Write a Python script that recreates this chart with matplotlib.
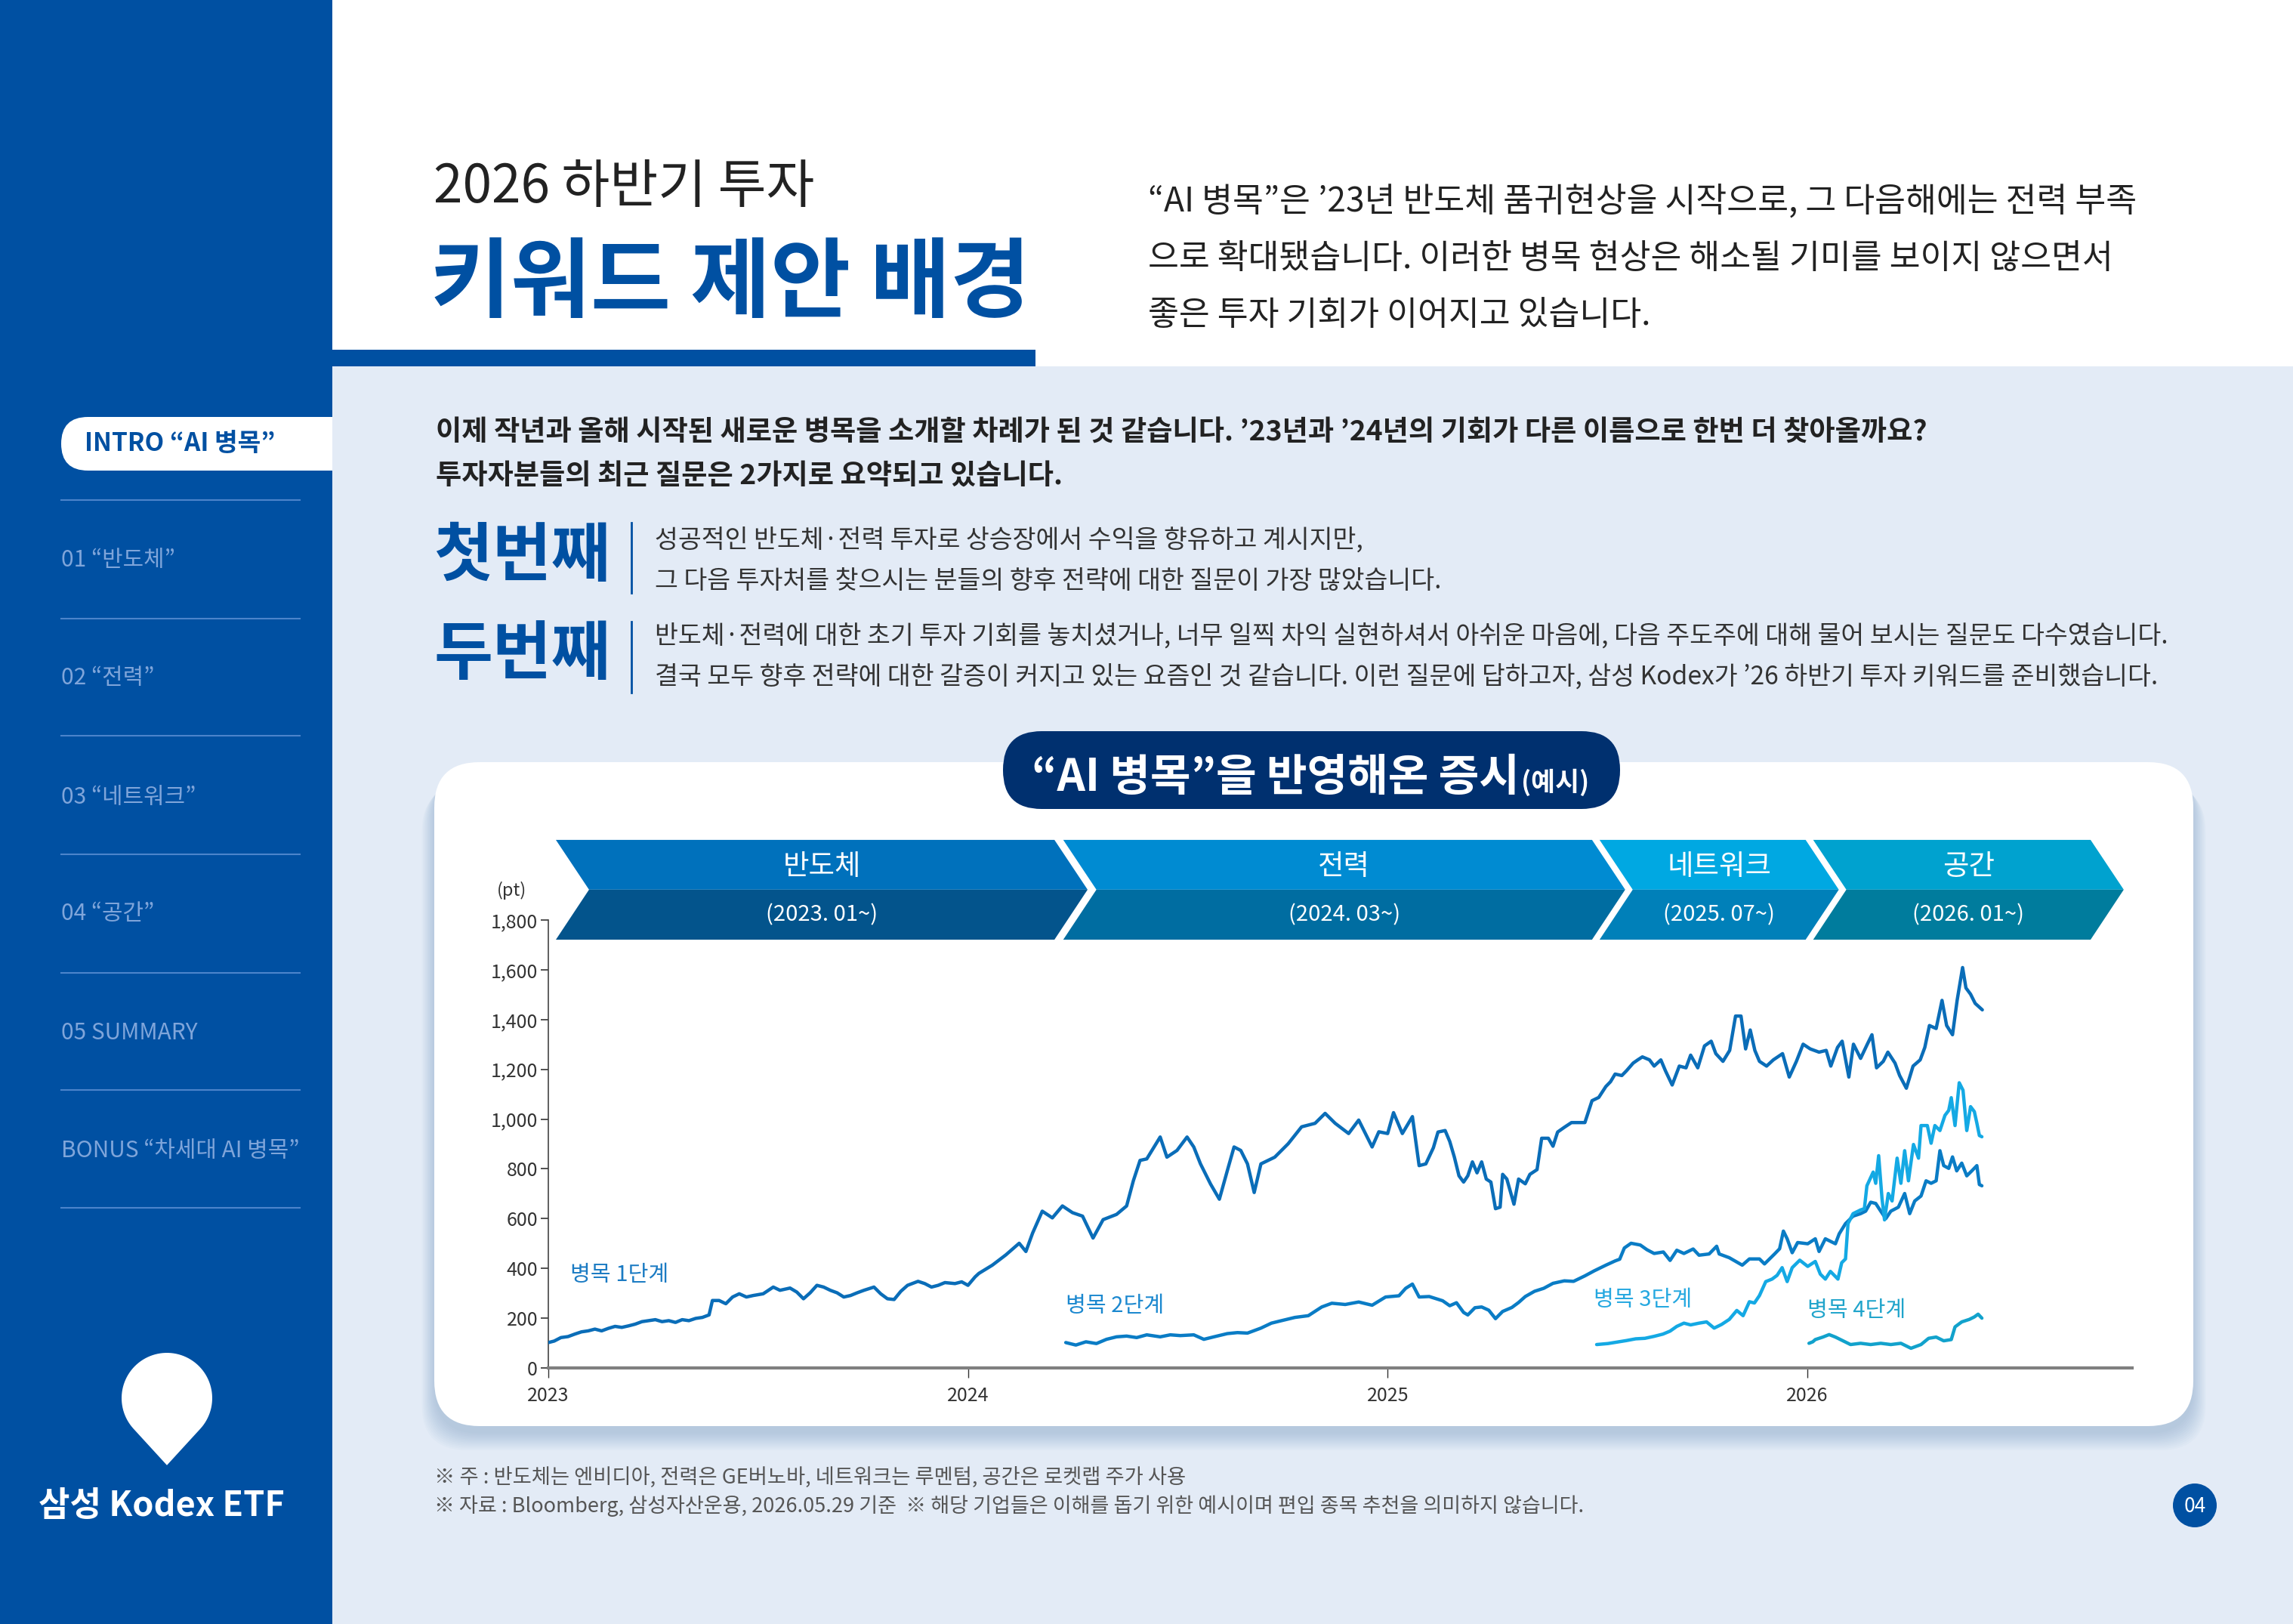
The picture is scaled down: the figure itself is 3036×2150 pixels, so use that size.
import matplotlib
matplotlib.use("Agg")
import matplotlib.pyplot as plt
from matplotlib.patches import FancyBboxPatch, Rectangle, Polygon, Circle
import numpy as np

plt.rcParams["font.family"] = ["Noto Sans CJK KR", "DejaVu Sans"]

W, H = 3036, 2150

# ---- chart data (decimal year, pt) ----
S1_YEAR = [2023.000, 2023.014, 2023.030, 2023.047, 2023.063, 2023.079, 2023.095, 2023.111, 2023.127, 2023.143,
           2023.159, 2023.175, 2023.191, 2023.207, 2023.223, 2023.239, 2023.255, 2023.271, 2023.287, 2023.303,
           2023.319, 2023.335, 2023.351, 2023.367, 2023.383, 2023.391, 2023.407, 2023.423, 2023.439, 2023.455,
           2023.472, 2023.488, 2023.512, 2023.536, 2023.552, 2023.576, 2023.592, 2023.608, 2023.624, 2023.640,
           2023.656, 2023.672, 2023.688, 2023.704, 2023.720, 2023.736, 2023.752, 2023.776, 2023.792, 2023.808,
           2023.824, 2023.840, 2023.856, 2023.881, 2023.897, 2023.913, 2023.929, 2023.945, 2023.969, 2023.985,
           2024.000, 2024.017, 2024.026, 2024.058, 2024.090, 2024.122, 2024.138, 2024.154, 2024.177, 2024.201,
           2024.225, 2024.249, 2024.273, 2024.298, 2024.322, 2024.354, 2024.378, 2024.394, 2024.410, 2024.426,
           2024.458, 2024.474, 2024.498, 2024.522, 2024.538, 2024.554, 2024.578, 2024.599, 2024.618, 2024.634,
           2024.650, 2024.666, 2024.682, 2024.698, 2024.731, 2024.763, 2024.795, 2024.827, 2024.851, 2024.875,
           2024.907, 2024.931, 2024.963, 2024.979,
           2025.000, 2025.014, 2025.035, 2025.059, 2025.075, 2025.091,
           2025.109, 2025.120, 2025.137, 2025.148, 2025.159, 2025.170, 2025.181, 2025.191, 2025.202, 2025.213,
           2025.224, 2025.235, 2025.246, 2025.257, 2025.268, 2025.274, 2025.284, 2025.301, 2025.312, 2025.328,
           2025.339, 2025.356, 2025.367, 2025.383, 2025.394, 2025.405, 2025.421, 2025.438, 2025.454, 2025.470,
           2025.487, 2025.503, 2025.520, 2025.531, 2025.542, 2025.558, 2025.569, 2025.585, 2025.596, 2025.607,
           2025.624, 2025.635, 2025.651, 2025.662, 2025.678, 2025.695, 2025.711, 2025.722, 2025.739, 2025.755,
           2025.771, 2025.782, 2025.799, 2025.815, 2025.829, 2025.842, 2025.853, 2025.864, 2025.875, 2025.886,
           2025.903, 2025.919, 2025.941, 2025.957, 2025.974, 2025.990,
           2026.007, 2026.028, 2026.045, 2026.056, 2026.072, 2026.083, 2026.099, 2026.110, 2026.127, 2026.143,
           2026.154, 2026.165, 2026.181, 2026.192, 2026.209, 2026.220, 2026.236, 2026.252, 2026.269, 2026.280,
           2026.291, 2026.307, 2026.321, 2026.332, 2026.346, 2026.357, 2026.370, 2026.378, 2026.389, 2026.400,
           2026.417]
S1_VAL = [102, 108, 122, 126, 136, 145, 149, 156, 149, 159,
          167, 163, 169, 176, 186, 190, 194, 186, 190, 183,
          194, 190, 199, 203, 213, 271, 271, 258, 285, 298,
          285, 291, 298, 325, 312, 321, 305, 278, 302, 332,
          325, 312, 302, 285, 291, 302, 312, 325, 298, 278,
          275, 308, 332, 348, 339, 325, 332, 343, 339, 346,
          332, 366, 380, 413, 454, 501, 468, 542, 630, 603,
          651, 624, 610, 522, 596, 617, 651, 752, 834, 840,
          928, 847, 874, 928, 888, 820, 739, 678, 793, 888,
          874, 820, 705, 820, 847, 901, 969, 983, 1023, 983,
          942, 996, 888, 949,
          942, 1026, 942, 1010, 813, 820,
          885, 948, 954, 910, 847, 772, 747, 772, 828, 784,
          828, 759, 747, 640, 646, 778, 759, 658, 759, 740,
          778, 797, 923, 923, 891, 948, 967, 986, 986, 986,
          1074, 1087, 1131, 1150, 1181, 1175, 1194, 1225, 1238, 1250,
          1238, 1213, 1238, 1194, 1137, 1213, 1206, 1257, 1206, 1294,
          1313, 1263, 1232, 1276, 1414, 1414, 1282, 1358, 1276, 1232,
          1213, 1238, 1263, 1169, 1232, 1301,
          1282, 1269, 1276, 1213, 1288, 1313, 1169, 1301, 1244, 1301,
          1339, 1206, 1232, 1269, 1225, 1175, 1124, 1213, 1238, 1288,
          1376, 1364, 1477, 1376, 1339, 1477, 1609, 1527, 1502, 1465,
          1439]

S2_YEAR = [2024.233, 2024.257, 2024.281, 2024.306, 2024.330, 2024.354, 2024.378, 2024.402, 2024.426, 2024.458,
           2024.482, 2024.506, 2024.538, 2024.562, 2024.586, 2024.618, 2024.642, 2024.666, 2024.698, 2024.723,
           2024.747, 2024.779, 2024.811, 2024.843, 2024.867, 2024.899, 2024.931, 2024.963, 2024.995,
           2025.027, 2025.043, 2025.059, 2025.075, 2025.099,
           2025.131, 2025.148, 2025.164, 2025.181, 2025.191, 2025.208, 2025.224, 2025.241, 2025.257, 2025.274,
           2025.296, 2025.312, 2025.328, 2025.350, 2025.372, 2025.394, 2025.421, 2025.443, 2025.470, 2025.492,
           2025.520, 2025.542, 2025.553, 2025.564, 2025.580, 2025.602, 2025.618, 2025.635, 2025.657, 2025.673,
           2025.689, 2025.706, 2025.728,
           2025.742, 2025.766, 2025.784, 2025.790, 2025.814, 2025.845, 2025.862, 2025.886, 2025.898, 2025.922,
           2025.934, 2025.943, 2025.952, 2025.964, 2025.977,
           2026.001, 2026.019, 2026.028, 2026.043, 2026.067, 2026.076, 2026.091, 2026.109, 2026.127, 2026.139,
           2026.151, 2026.163, 2026.175, 2026.187, 2026.199, 2026.217, 2026.232, 2026.244, 2026.256, 2026.271,
           2026.283, 2026.295, 2026.307, 2026.316, 2026.325, 2026.337, 2026.346, 2026.356, 2026.368, 2026.380,
           2026.392, 2026.404, 2026.410, 2026.416]
S2_VAL = [102, 92, 105, 98, 115, 125, 128, 122, 133, 125,
          133, 130, 133, 115, 125, 138, 142, 140, 160, 180,
          190, 203, 210, 245, 260, 255, 265, 252, 285,
          290, 320, 337, 285, 287,
          270, 250, 262, 223, 213, 242, 245, 232, 198, 227,
          243, 263, 287, 308, 320, 340, 350, 348, 370, 390,
          413, 430, 437, 482, 501, 494, 475, 460, 466, 432,
          473, 460, 478,
          453, 458, 489, 458, 443, 413, 438, 438, 418, 458,
          479, 550, 519, 463, 504,
          499, 519, 468, 519, 499, 539, 580, 610, 620, 630,
          666, 661, 630, 600, 630, 646, 701, 620, 671, 691,
          752, 742, 752, 873, 813, 802, 848, 792, 823, 772,
          792, 813, 737, 732]

S3_YEAR = [2025.498, 2025.525, 2025.547, 2025.569, 2025.591, 2025.613, 2025.635, 2025.656, 2025.673, 2025.689,
           2025.706, 2025.722, 2025.742, 2025.760, 2025.778, 2025.796, 2025.814, 2025.832, 2025.847, 2025.862,
           2025.874, 2025.886, 2025.901, 2025.916, 2025.928, 2025.940, 2025.952, 2025.964, 2025.982,
           2026.001, 2026.019, 2026.031, 2026.043, 2026.055, 2026.073, 2026.082, 2026.091, 2026.097, 2026.109,
           2026.127, 2026.136, 2026.142, 2026.157, 2026.163, 2026.170, 2026.178, 2026.184, 2026.193, 2026.202,
           2026.214, 2026.223, 2026.232, 2026.241, 2026.253, 2026.265, 2026.271, 2026.286, 2026.295, 2026.304,
           2026.316, 2026.328, 2026.337, 2026.343, 2026.352, 2026.362, 2026.371, 2026.380, 2026.389, 2026.398,
           2026.404, 2026.410, 2026.416]
S3_VAL = [94, 98, 104, 110, 117, 119, 127, 136, 148, 167,
          180, 173, 180, 185, 160, 175, 195, 231, 210, 266,
          261, 291, 347, 357, 372, 403, 347, 403, 433,
          408, 428, 377, 357, 388, 357, 423, 438, 580, 620,
          635, 640, 732, 787, 742, 853, 681, 595, 701, 671,
          843, 742, 873, 752, 898, 843, 974, 974, 903, 974,
          954, 1015, 1035, 1086, 974, 1146, 1116, 954, 1050, 1030,
          984, 934, 929]

S4_YEAR = [2026.004, 2026.013, 2026.019, 2026.037, 2026.052, 2026.067, 2026.085, 2026.103, 2026.127, 2026.151,
           2026.175, 2026.199, 2026.223, 2026.247, 2026.271, 2026.289, 2026.307, 2026.325, 2026.343, 2026.352,
           2026.368, 2026.386, 2026.398, 2026.407, 2026.416]
S4_VAL = [99, 105, 114, 124, 134, 124, 109, 94, 99, 94,
          99, 94, 99, 79, 94, 119, 124, 109, 114, 165,
          185, 195, 205, 216, 200]

SERIES_LABELS = ["병목 1단계", "병목 2단계", "병목 3단계", "병목 4단계"]

STAGE_NAMES = ["반도체", "전력", "네트워크", "공간"]
STAGE_DATES = ["(2023. 01~)", "(2024. 03~)", "(2025. 07~)", "(2026. 01~)"]
STAGE_START = [2023.018, 2024.227, 2025.505, 2026.014]
STAGE_END = [2024.206, 2025.487, 2025.996, 2026.675]

YEAR_TICKS = [2023, 2024, 2025, 2026]
Y_TICKS = [0, 200, 400, 600, 800, 1000, 1200, 1400, 1600, 1800]

MENU = ["01 “반도체”", "02 “전력”", "03 “네트워크”", "04 “공간”", "05 SUMMARY", "BONUS “차세대 AI 병목”"]

# ---- colours ----
BLUE = "#0050A2"
BG = "#E3EBF6"
NAVY = "#00306F"
LINE_COLORS = ["#0A6DB8", "#0A7CC5", "#14A9E4", "#12A2CC"]
LABEL_COLORS = ["#1B7BC3", "#1B88CF", "#25A8E0", "#20A4CB"]
TOP_COLORS = ["#0071BC", "#008BD2", "#00A8E2", "#00A2CF"]
BOT_COLORS = ["#03548C", "#006DA1", "#0080B9", "#007C9D"]

fig = plt.figure(figsize=(W / 100, H / 100), dpi=100)
fig.patch.set_facecolor(BG)

# full-page layer in pixel coordinates (y down)
bg = fig.add_axes([0, 0, 1, 1])
bg.set_xlim(0, W)
bg.set_ylim(H, 0)
bg.axis("off")
bg.set_zorder(0)

bg.add_patch(Rectangle((0, 0), 440, H, fc=BLUE, ec="none"))
bg.add_patch(Rectangle((440, 0), W - 440, 485, fc="white", ec="none"))
bg.add_patch(Rectangle((440, 463), 931, 22, fc=BLUE, ec="none"))

# header
bg.text(574, 248, "2026 하반기 투자", fontsize=50, color="#222222", va="center")
bg.text(570, 378, "키워드 제안 배경", fontsize=83, fontweight="bold", color=BLUE, va="center")

head = ["“AI 병목”은 ’23년 반도체 품귀현상을 시작으로, 그 다음해에는 전력 부족",
        "으로 확대됐습니다. 이러한 병목 현상은 해소될 기미를 보이지 않으면서",
        "좋은 투자 기회가 이어지고 있습니다."]
for i, s in enumerate(head):
    bg.text(1520, 267 + 75 * i, s, fontsize=32, color="#222222", va="center")

intro = ["이제 작년과 올해 시작된 새로운 병목을 소개할 차례가 된 것 같습니다. ’23년과 ’24년의 기회가 다른 이름으로 한번 더 찾아올까요?",
         "투자자분들의 최근 질문은 2가지로 요약되고 있습니다."]
for i, s in enumerate(intro):
    bg.text(577, 573 + 57 * i, s, fontsize=26.8, fontweight="bold", color="#222222", va="center")

blocks = [("첫번째", 737, 692, 785, 715,
           ["성공적인 반도체·전력 투자로 상승장에서 수익을 향유하고 계시지만,",
            "그 다음 투자처를 찾으시는 분들의 향후 전략에 대한 질문이 가장 많았습니다."]),
          ("두번째", 867, 823, 917, 842,
           ["반도체·전력에 대한 초기 투자 기회를 놓치셨거나, 너무 일찍 차익 실현하셔서 아쉬운 마음에, 다음 주도주에 대해 물어 보시는 질문도 다수였습니다.",
            "결국 모두 향후 전략에 대한 갈증이 커지고 있는 요즘인 것 같습니다. 이런 질문에 답하고자, 삼성 Kodex가 ’26 하반기 투자 키워드를 준비했습니다."])]
for word, wy, l0, l1, ty, lines in blocks:
    bg.text(574, wy, word, fontsize=61, fontweight="bold", color=BLUE, va="center")
    bg.plot([836, 836], [l0, l1], color=BLUE, lw=2)
    for i, s in enumerate(lines):
        bg.text(867, ty + 54 * i, s, fontsize=24.2, color="#333333", va="center")

# chart card with soft shadow
for i in range(12):
    bg.add_patch(FancyBboxPatch((575 - i * 1.5, 1009 + 10 + i * 2), 2329 + i * 3, 879,
                                boxstyle="round,pad=0,rounding_size=60",
                                fc="#6F97C0", ec="none", alpha=0.035))
bg.add_patch(FancyBboxPatch((575, 1009), 2329, 879, boxstyle="round,pad=0,rounding_size=60",
                            fc="white", ec="none"))

# title pill
bg.add_patch(FancyBboxPatch((1328, 968), 817, 103, boxstyle="round,pad=0,rounding_size=51",
                            fc=NAVY, ec="none"))
bg.text(2012, 1047, "“AI 병목”을 반영해온 증시", fontsize=42, fontweight="bold", color="white",
        ha="right", va="baseline")
bg.text(2014, 1047, "(예시)", fontsize=25, fontweight="bold", color="white", ha="left", va="baseline")

bg.text(678, 1179, "(pt)", fontsize=17, color="#333333", ha="center", va="center")

# footnotes
bg.text(575, 1956, "※ 주 : 반도체는 엔비디아, 전력은 GE버노바, 네트워크는 루멘텀, 공간은 로켓랩 주가 사용",
        fontsize=19.7, color="#555555", va="center")
bg.text(575, 1994, "※ 자료 : Bloomberg, 삼성자산운용, 2026.05.29 기준  ※ 해당 기업들은 이해를 돕기 위한 예시이며 편입 종목 추천을 의미하지 않습니다.",
        fontsize=19.5, color="#555555", va="center")

# page number
bg.add_patch(Circle((2906, 1993), 29, fc=BLUE, ec="none"))
bg.text(2906, 1994, "04", fontsize=19, color="white", ha="center", va="center")

# sidebar menu
bg.add_patch(FancyBboxPatch((81, 552), 250, 71, boxstyle="round,pad=0,rounding_size=35.5",
                            fc="white", ec="none"))
bg.add_patch(Rectangle((200, 552), 240, 71, fc="white", ec="none"))
bg.text(112, 588, "INTRO “AI 병목”", fontsize=24, fontweight="bold", color=BLUE, va="center")
for y in [662, 819, 974, 1131, 1288, 1443, 1599]:
    bg.plot([81, 397], [y, y], color="#4C84CB", lw=1.5)
for y, s in zip([742, 898, 1055, 1210, 1367, 1524], MENU):
    bg.text(81, y, s, fontsize=21.5, color="#7FA5DA", va="center")

# logo drop
cx, cy, r = 221, 1851, 60
t = np.radians(np.linspace(-42.5, 222.5, 80))
drop = np.column_stack([cx + r * np.cos(t), cy - r * np.sin(t)])
drop = np.vstack([drop, [[cx, cy + 1.48 * r]]])
bg.add_patch(Polygon(drop, closed=True, fc="white", ec="none"))
bg.text(214, 1994, "삼성 Kodex ETF", fontsize=32.5, fontweight="bold", color="white", ha="center", va="center")

# ---- chart ----
ax = fig.add_axes([726 / W, 1 - 1811 / H, (2823 - 726) / W, (1811 - 1218) / H])
ax.set_zorder(2)
ax.patch.set_alpha(0)

series = [(S1_YEAR, S1_VAL), (S2_YEAR, S2_VAL), (S3_YEAR, S3_VAL), (S4_YEAR, S4_VAL)]
for (xs, ys), c in zip(series, LINE_COLORS):
    ax.plot(xs, ys, color=c, lw=3.2, solid_joinstyle="round", solid_capstyle="round", zorder=3)

label_pos = [(2023.052, 373), (2024.233, 249), (2025.491, 273), (2026.000, 231)]
for (lx, ly), s, c in zip(label_pos, SERIES_LABELS, LABEL_COLORS):
    ax.text(lx, ly, s, fontsize=21, color=c, va="center", ha="left")

# stage chevrons above the plot
y_top, y_mid, y_bot = 2122, 1922, 1721
notch = 0.079
for name, date, x0, x1, ct, cb in zip(STAGE_NAMES, STAGE_DATES, STAGE_START, STAGE_END,
                                      TOP_COLORS, BOT_COLORS):
    ax.add_patch(Polygon([(x0, y_top), (x1, y_top), (x1 + notch, y_mid), (x0 + notch, y_mid)],
                         closed=True, fc=ct, ec="none", clip_on=False, zorder=4))
    ax.add_patch(Polygon([(x0 + notch, y_mid), (x1 + notch, y_mid), (x1, y_bot), (x0, y_bot)],
                         closed=True, fc=cb, ec="none", clip_on=False, zorder=4))
    xc = (x0 + x1) / 2 + notch / 2
    ax.text(xc, (y_top + y_mid) / 2 - 8, name, fontsize=27, color="white",
            ha="center", va="center", zorder=5)
    ax.text(xc, (y_mid + y_bot) / 2, date, fontsize=21, color="white",
            ha="center", va="center", zorder=5)

ax.set_xlim(2023.0, 2026.774)
ax.set_ylim(0, 1800)
ax.set_xticks(YEAR_TICKS)
ax.set_xticklabels([str(v) for v in YEAR_TICKS])
ax.set_yticks(Y_TICKS)
ax.set_yticklabels([f"{v:,}" for v in Y_TICKS])
ax.tick_params(axis="y", labelsize=18, colors="#333333", length=7, width=1.2, pad=3)
ax.tick_params(axis="x", labelsize=18, colors="#333333", length=9, width=1, pad=8)
for tl in ax.get_xticklines():
    tl.set_color("#999999")
for s in ["top", "right"]:
    ax.spines[s].set_visible(False)
ax.spines["left"].set_color("#444444")
ax.spines["left"].set_linewidth(1.2)
ax.spines["bottom"].set_color("#808080")
ax.spines["bottom"].set_linewidth(3)

fig.savefig("out.png", dpi=100, facecolor=fig.get_facecolor())
